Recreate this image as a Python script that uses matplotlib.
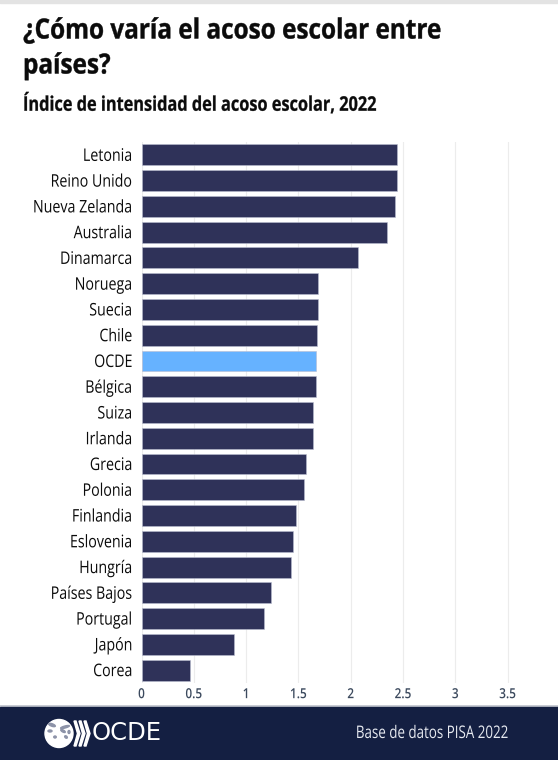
import numpy as np
import matplotlib
matplotlib.use("Agg")
import matplotlib.pyplot as plt
from matplotlib.patches import Circle, Ellipse, Polygon
from matplotlib.patheffects import AbstractPathEffect
from matplotlib.transforms import Affine2D

countries = ["Letonia", "Reino Unido", "Nueva Zelanda", "Australia", "Dinamarca", "Noruega", "Suecia",
             "Chile", "OCDE", "Bélgica", "Suiza", "Irlanda", "Grecia", "Polonia", "Finlandia",
             "Eslovenia", "Hungría", "Países Bajos", "Portugal", "Japón", "Corea"]
values = [2.44, 2.44, 2.42, 2.35, 2.07, 1.69, 1.69, 1.68, 1.67, 1.67, 1.64, 1.64, 1.57, 1.55, 1.48,
          1.45, 1.43, 1.24, 1.17, 0.88, 0.46]
x_ticks = [0, 0.5, 1, 1.5, 2, 2.5, 3, 3.5]
x_tick_labels = ["0", "0.5", "1", "1.5", "2", "2.5", "3", "3.5"]

W, H = 558, 760
plt.rcParams["font.family"] = ["Open Sans", "DejaVu Sans"]

NAVY = "#2f3259"
HILITE = "#66b2ff"
FOOT = "#141f42"


class Squeeze(AbstractPathEffect):
    # no condensed font here, so narrow the glyphs around a fixed pixel x
    def __init__(self, factor, anchor_x, stroke=0):
        super().__init__()
        self.factor = factor
        self.anchor_x = anchor_x
        self.stroke = stroke

    def draw_path(self, renderer, gc, tpath, affine, rgbFace=None):
        squeeze = Affine2D().translate(-self.anchor_x, 0).scale(self.factor, 1).translate(self.anchor_x, 0)
        gc0 = renderer.new_gc()
        gc0.copy_properties(gc)
        gc0.set_linewidth(self.stroke)
        gc0.set_foreground(rgbFace)
        renderer.draw_path(gc0, tpath, affine + squeeze, rgbFace)
        gc0.restore()


fig = plt.figure(figsize=(W / 100, H / 100), dpi=100, facecolor="white")


def box(x0, y0, x1, y1):
    # pixel box, y from the top
    return [x0 / W, 1 - y1 / H, (x1 - x0) / W, (y1 - y0) / H]


# top strip
fig.add_artist(plt.Rectangle((0, 1 - 3 / H), 1, 3 / H, color="#e3e3e3", transform=fig.transFigure))

title_fx = [Squeeze(0.875, 23, stroke=0.3)]
sub_fx = [Squeeze(0.81, 23, stroke=0.2)]
fig.text(23 / W, 1 - 31 / H, "¿Cómo varía el acoso escolar entre", fontsize=20, fontweight="bold",
         color="#0b0b0b", va="center", path_effects=title_fx)
fig.text(23 / W, 1 - 66 / H, "países?", fontsize=20, fontweight="bold", color="#0b0b0b", va="center",
         path_effects=title_fx)
fig.text(23 / W, 1 - 105 / H, "Índice de intensidad del acoso escolar, 2022", fontsize=14.5, fontweight="bold",
         color="#0b0b0b", va="center", path_effects=sub_fx)

# chart
ax = fig.add_axes(box(141.5, 142, 560, 683))
y = np.arange(len(countries))
colors = [HILITE if c == "OCDE" else NAVY for c in countries]
ax.barh(y, values, height=0.81, color=colors, edgecolor="#b9bdd0", linewidth=0.4, zorder=3)
ax.set_xlim(0, (560 - 141.5) / 104.6)
ax.set_ylim(len(countries) - 1 + 0.5, -0.5)
ax.set_yticks(y, countries)
ax.set_xticks(x_ticks, x_tick_labels)
ax.tick_params(axis="y", length=0, pad=6.5, labelsize=12.5, labelcolor="#0b0b0b")
ax.tick_params(axis="x", length=0, pad=3, labelsize=10, labelcolor="#3c4a5e")
ax.grid(axis="x", color="#ececec", linewidth=0.8, zorder=0)
for s in ax.spines.values():
    s.set_visible(False)
for lab in ax.get_yticklabels():
    lab.set_path_effects([Squeeze(0.82, 132)])
for lab, t in zip(ax.get_xticklabels(), x_ticks):
    lab.set_fontweight("semibold")
    lab.set_path_effects([Squeeze(0.85, 141.5 + t * 104.6)])

# footer
foot = fig.add_axes(box(0, 705, W, H))
foot.set_xlim(0, W)
foot.set_ylim(H, 705)
foot.axis("off")
foot.add_patch(plt.Rectangle((0, 705), W, 2, color="#c9ccd4"))
foot.add_patch(plt.Rectangle((0, 707), W, 53, color=FOOT))

# logo
foot.add_patch(Circle((59, 733.5), 14, color="white"))
for cx, cy, w, h, a in [(52, 725, 7, 2.5, 20), (65, 727, 9, 2, -15), (63, 731, 5, 2, 30), (50, 731, 4, 2, 0),
                        (55, 737, 2.5, 2, 0), (66, 737, 3, 2, 40), (69, 732, 2, 3, 0)]:
    foot.add_patch(Ellipse((cx, cy), w, h, angle=a, color="#8d93a8"))
for dx in [0, 5, 10]:
    foot.add_patch(Polygon([(74 + dx, 721), (76 + dx, 721), (80 + dx, 733.5), (76 + dx, 746), (74 + dx, 746),
                            (77.5 + dx, 733.5)], color="white"))
foot.text(92, 733.5, "OCDE", color="white", fontsize=17.5, va="center", family=["DejaVu Sans"])
foot.text(509, 734, "Base de datos PISA 2022", color="#e6e9f0", fontsize=12.5, va="center", ha="right",
          path_effects=[Squeeze(0.77, 509)])

fig.savefig("out.png", dpi=100)
